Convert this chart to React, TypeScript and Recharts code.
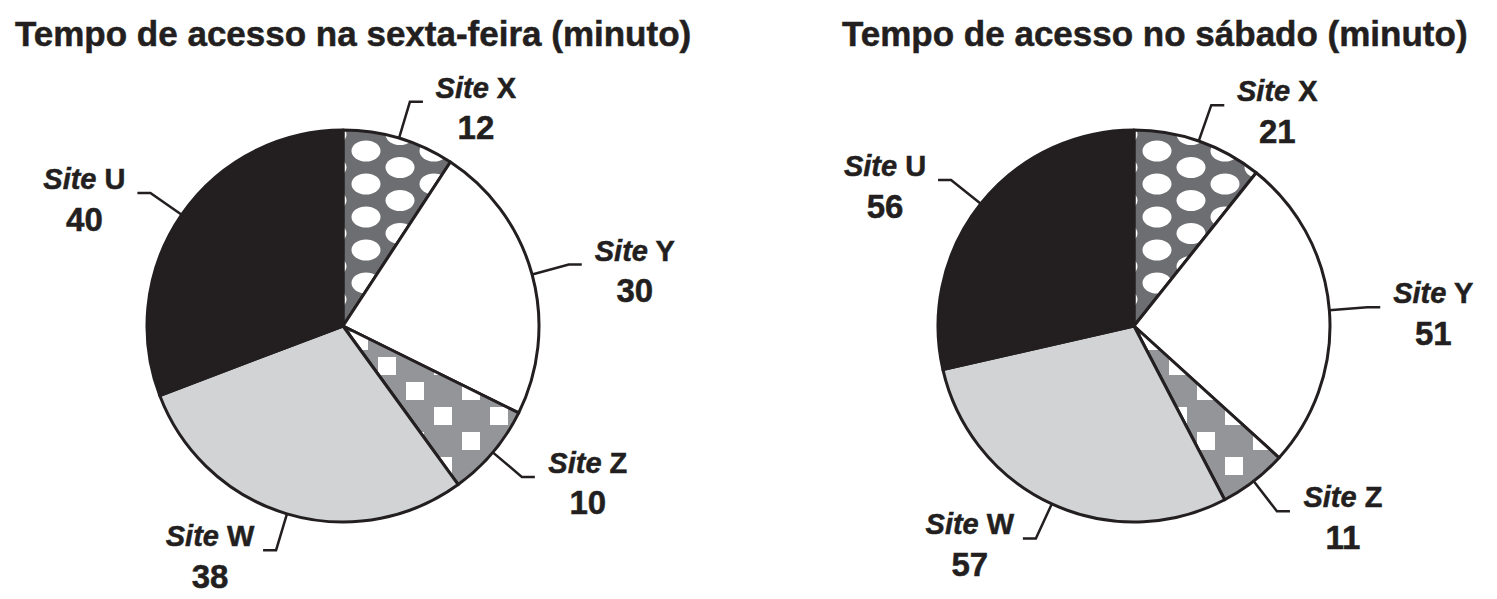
import React from 'react';
import { PieChart, Pie, Cell } from 'recharts';

// ---- data ----
const sites = ['X', 'Y', 'Z', 'W', 'U'];
const fridayValues = [12, 30, 10, 38, 40];
const saturdayValues = [21, 51, 11, 57, 56];
const fridayTitle = 'Tempo de acesso na sexta-feira (minuto)';
const saturdayTitle = 'Tempo de acesso no sábado (minuto)';

const INK = '#231f20';
const RAD = Math.PI / 180;

const buildData = (values: number[]) => sites.map((s, i) => ({ name: s, value: values[i] }));

const fillsFor = (suffix: string): Record<string, string> => ({
  X: `url(#dots${suffix})`,
  Y: '#ffffff',
  Z: `url(#squares${suffix})`,
  W: '#d1d3d4',
  U: INK,
});

const FONT = '"Liberation Sans", Arial, sans-serif';

const renderLabel = (props: any) => {
  const { cx, cy, midAngle, outerRadius, payload, value } = props;
  const cos = Math.cos(-midAngle * RAD);
  const sin = Math.sin(-midAngle * RAD);
  const sx = cx + outerRadius * cos;
  const sy = cy + outerRadius * sin;
  const ex = cx + (outerRadius + 38) * cos;
  const ey = cy + (outerRadius + 38) * sin;
  const dir = cos >= 0 ? 1 : -1;
  const hx = ex + dir * 13;
  const tx = hx + dir * 53;
  const font = {
    fontFamily: FONT,
    fontWeight: 700,
    fill: INK,
    stroke: INK,
    strokeWidth: 0.5,
  };
  return (
    <g>
      <polyline
        points={`${sx},${sy} ${ex},${ey} ${hx},${ey}`}
        fill="none"
        stroke={INK}
        strokeWidth={2.5}
      />
      <text x={tx} y={ey - 14} textAnchor="middle" dominantBaseline="central" fontSize={29} {...font}>
        <tspan fontStyle="italic">Site</tspan>
        <tspan>{' ' + payload.name}</tspan>
      </text>
      <text x={tx} y={ey + 26} textAnchor="middle" dominantBaseline="central" fontSize={33} {...font}>
        {value}
      </text>
    </g>
  );
};

const PIE_CY = 326;
const LEFT_CX = 343;
const RIGHT_CX = 1134;
const R = 196;

const Patterns = ({ suffix, cx }: { suffix: string; cx: number }) => (
  <>
    <pattern id={`dots${suffix}`} patternUnits="userSpaceOnUse" x={cx + 6} y={PIE_CY - 186} width={68} height={33}>
      <rect width={68} height={33} fill="#6d6e71" />
      <ellipse cx={17} cy={11} rx={14.5} ry={10.5} fill="#fff" />
      <ellipse cx={51} cy={27.5} rx={14.5} ry={10.5} fill="#fff" />
      <ellipse cx={51} cy={-5.5} rx={14.5} ry={10.5} fill="#fff" />
    </pattern>
    <pattern id={`squares${suffix}`} patternUnits="userSpaceOnUse" x={cx + 58} y={PIE_CY + 52} width={56} height={50}>
      <rect width={56} height={50} fill="#939598" />
      <rect x={5} y={4} width={18} height={18} fill="#fff" />
      <rect x={33} y={29} width={18} height={18} fill="#fff" />
    </pattern>
  </>
);

export default function App() {
  const leftData = buildData(fridayValues);
  const rightData = buildData(saturdayValues);
  const leftFills = fillsFor('L');
  const rightFills = fillsFor('R');
  const titleStyle = {
    fontFamily: FONT,
    fontWeight: 700,
    fontSize: 35,
    fill: INK,
    stroke: INK,
    strokeWidth: 0.5,
  } as const;
  return (
    <div style={{ position: 'absolute', left: 0, top: 0, width: 1497, height: 599, background: '#fff' }}>
      <svg width={1497} height={599} style={{ position: 'absolute', left: 0, top: 0 }}>
        <defs>
          <Patterns suffix="L" cx={LEFT_CX} />
          <Patterns suffix="R" cx={RIGHT_CX} />
        </defs>
        <text x={15} y={46} {...titleStyle}>{fridayTitle}</text>
        <text x={842} y={46} {...titleStyle}>{saturdayTitle}</text>
      </svg>
      <div style={{ position: 'absolute', left: 0, top: 0 }}>
        <PieChart width={1497} height={599} margin={{ top: 0, right: 0, bottom: 0, left: 0 }}>
          <Pie
            data={leftData}
            dataKey="value"
            nameKey="name"
            cx={LEFT_CX}
            cy={PIE_CY}
            outerRadius={R}
            startAngle={90}
            endAngle={-270}
            isAnimationActive={false}
            label={renderLabel}
            labelLine={false}
            stroke={INK}
            strokeWidth={3}
            strokeLinejoin="round"
          >
            {leftData.map((d) => (
              <Cell key={d.name} fill={leftFills[d.name]} stroke={INK} strokeWidth={3} />
            ))}
          </Pie>
          <Pie
            data={rightData}
            dataKey="value"
            nameKey="name"
            cx={RIGHT_CX}
            cy={PIE_CY}
            outerRadius={R}
            startAngle={90}
            endAngle={-270}
            isAnimationActive={false}
            label={renderLabel}
            labelLine={false}
            stroke={INK}
            strokeWidth={3}
            strokeLinejoin="round"
          >
            {rightData.map((d) => (
              <Cell key={d.name} fill={rightFills[d.name]} stroke={INK} strokeWidth={3} />
            ))}
          </Pie>
        </PieChart>
      </div>
    </div>
  );
}
